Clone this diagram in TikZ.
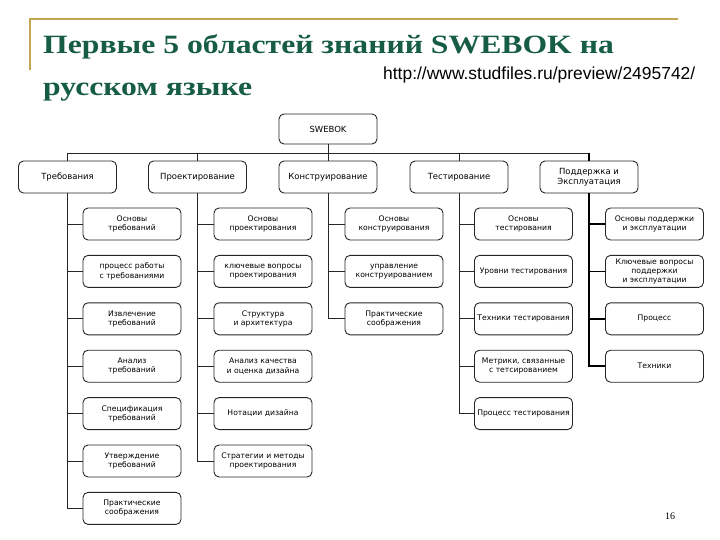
\documentclass[tikz,border=0pt]{standalone}
\usepackage{fontspec}
\setmainfont{DejaVu Sans}
\newfontfamily\titlefont{Liberation Serif}
\newfontfamily\urlfont{Liberation Sans}
\newfontfamily\boxfamily{DejaVu Sans}
\definecolor{titlegreen}{RGB}{22,92,70}
\definecolor{goldline}{RGB}{196,166,80}
\begin{document}
\begin{tikzpicture}[x=1bp,y=-1bp,
  box/.style={draw=black!85, line width=0.9bp, rounded corners=5bp, minimum width=98bp, minimum height=32bp, align=center, inner sep=0.5bp, font=\boxfamily\fontsize{7.7}{9.2}\selectfont},
  topbox/.style={box, font=\boxfamily\fontsize{8.5}{10}\selectfont},
  titletext/.style={anchor=base west, inner sep=0, text=titlegreen, font=\titlefont\bfseries\fontsize{26.5}{30}\selectfont},
  link/.style={draw=black!85, line width=0.9bp},
  thicklink/.style={draw=black, line width=1.7bp}]
\useasboundingbox (0,0) rectangle (720,540);
% title decoration
\draw[goldline, line width=2bp] (30,70) -- (30,19) -- (678,19);
\node[titletext] (title1) at (43,54) {\scalebox{1.2}[1]{Первые 5 областей знаний SWEBOK на}};
\node[titletext] (title2) at (43,96) {\scalebox{1.2}[1]{русском языке}};
\node[anchor=base west, inner sep=0, font=\urlfont\fontsize{17.5}{20}\selectfont] (url) at (383,80) {http://www.studfiles.ru/preview/2495742/};
\node[font=\titlefont\fontsize{10}{12}\selectfont, inner sep=0] (page) at (670,516) {16};
% top level
\node[topbox, minimum height=30bp] (swebok) at (328,129) {SWEBOK};
\node[topbox] (t1) at (67.5,177) {Требования};
\node[topbox] (t2) at (197.5,177) {Проектирование};
\node[topbox] (t3) at (328,177) {Конструирование};
\node[topbox] (t4) at (459,177) {Тестирование};
\node[topbox] (t5) at (589,177) {Поддержка и\\Эксплуатация};
% column 1
\node[box] (c1r1) at (132,224) {Основы\\требований};
\node[box] (c1r2) at (132,271.4) {процесс работы\\с требованиями};
\node[box] (c1r3) at (132,318.8) {Извлечение\\требований};
\node[box] (c1r4) at (132,366.2) {Анализ\\требований};
\node[box] (c1r5) at (132,413.6) {Спецификация\\требований};
\node[box] (c1r6) at (132,461) {Утверждение\\требований};
\node[box] (c1r7) at (132,508.4) {Практические\\соображения};
% column 2
\node[box] (c2r1) at (263,224) {Основы\\проектирования};
\node[box] (c2r2) at (263,271.4) {ключевые вопросы\\проектирования};
\node[box] (c2r3) at (263,318.8) {Структура\\и архитектура};
\node[box] (c2r4) at (263,366.2) {Анализ качества\\и оценка дизайна};
\node[box] (c2r5) at (263,413.6) {Нотации дизайна};
\node[box] (c2r6) at (263,461) {Стратегии и методы\\проектирования};
% column 3
\node[box] (c3r1) at (394,224) {Основы\\конструирования};
\node[box] (c3r2) at (394,271.4) {управление\\конструированием};
\node[box] (c3r3) at (394,318.8) {Практические\\соображения};
% column 4
\node[box] (c4r1) at (523.5,224) {Основы\\тестирования};
\node[box] (c4r2) at (523.5,271.4) {Уровни тестирования};
\node[box] (c4r3) at (523.5,318.8) {Техники тестирования};
\node[box] (c4r4) at (523.5,366.2) {Метрики, связанные\\с тетсированием};
\node[box] (c4r5) at (523.5,413.6) {Процесс тестирования};
% column 5
\node[box] (c5r1) at (654.5,224) {Основы поддержки\\и эксплуатации};
\node[box] (c5r2) at (654.5,271.4) {Ключевые вопросы\\поддержки\\и эксплуатации};
\node[box] (c5r3) at (654.5,318.8) {Процесс};
\node[box] (c5r4) at (654.5,366.2) {Техники};
% bus
\coordinate (bus) at (328,153);
\draw[link] (swebok.south) -- (bus);
\draw[link] (t1.north) -- (t1.north |- bus) -- (t5.north |- bus);
\draw[thicklink] (t5.north |- bus) -- (t5.north);
\foreach \t in {t2,t3,t4} { \draw[link] (\t.north) -- (\t.north |- bus); }
% trunks
\draw[link] (t1.south) |- (c1r7.west);
\foreach \r in {1,...,6} { \draw[link] (c1r\r.west) -- (c1r\r.west -| t1.south); }
\draw[link] (t2.south) |- (c2r6.west);
\foreach \r in {1,...,5} { \draw[link] (c2r\r.west) -- (c2r\r.west -| t2.south); }
\draw[link] (t3.south) |- (c3r3.west);
\foreach \r in {1,2} { \draw[link] (c3r\r.west) -- (c3r\r.west -| t3.south); }
\draw[link] (t4.south) |- (c4r5.west);
\foreach \r in {1,...,4} { \draw[link] (c4r\r.west) -- (c4r\r.west -| t4.south); }
\draw[thicklink] (t5.south) |- (c5r4.west);
\foreach \r in {1,2,3} { \draw[thicklink] (c5r\r.west) -- (c5r\r.west -| t5.south); }
\end{tikzpicture}
\end{document}
